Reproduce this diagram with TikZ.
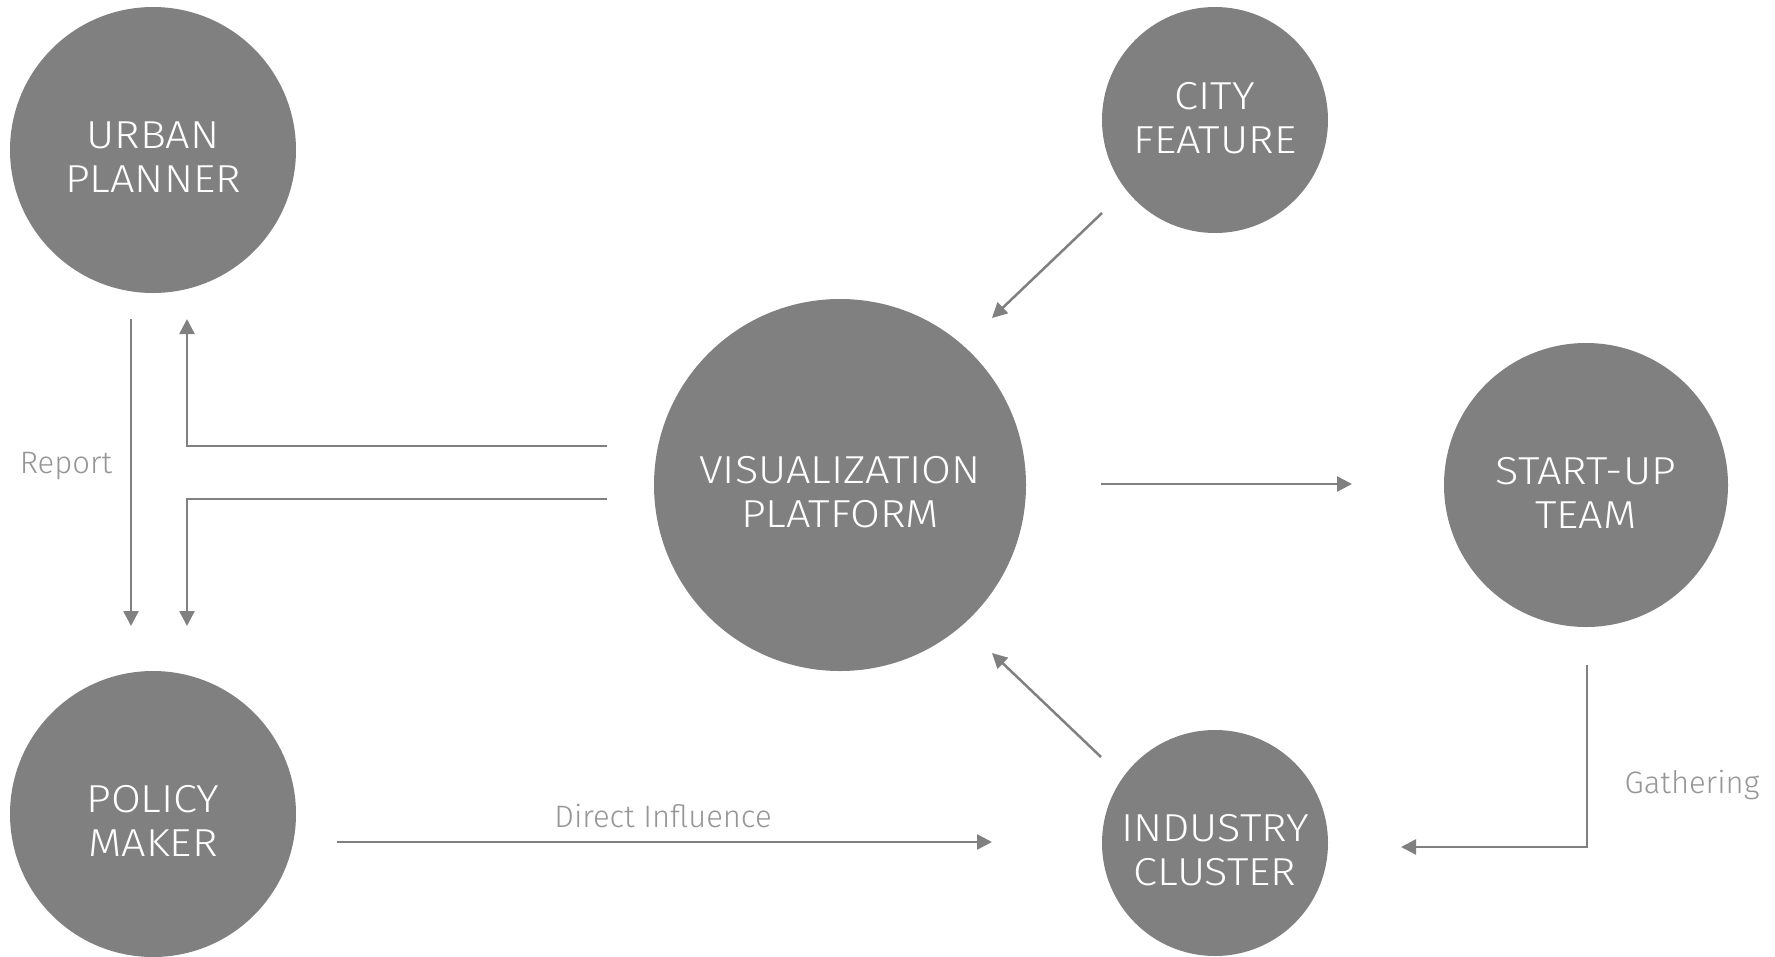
\documentclass[tikz,border=0pt]{standalone}
\usepackage{fontspec}
\setmainfont{Fira Sans}[UprightFont={* Light}]
\newfontfamily\discfont{Fira Sans}[UprightFont={* Light},FakeStretch=1.11]
\usetikzlibrary{arrows.meta,calc}
\definecolor{disc}{RGB}{128,128,128}
\definecolor{wire}{RGB}{128,128,128}
\definecolor{lbl}{RGB}{150,150,150}
\tikzset{
  disc/.style={circle,fill=disc,draw=none,inner sep=0pt,minimum size=#1},
  disctext/.style={text=white,align=center,inner sep=0pt,font=\discfont\fontsize{39bp}{44bp}\selectfont},
  conn/.style={draw=wire,line width=2.5bp,-{Triangle[length=15bp,width=15bp]}},
  lab/.style={text=lbl,inner sep=0pt,anchor=base,font=\fontsize{31bp}{36bp}\selectfont}
}
\begin{document}
\begin{tikzpicture}[x=1bp,y=-1bp]
\useasboundingbox (0,0) rectangle (1775,956);
% circles
\node[disc=286bp] (up) at (153,150) {};
\node[disc=286bp] (pm) at (153,814) {};
\node[disc=372bp] (vis) at (840,485) {};
\node[disc=226bp] (cf) at (1215,120) {};
\node[disc=284bp] (st) at (1586,485) {};
\node[disc=226bp] (ic) at (1215,843) {};
% texts
\node[disctext] (upt) at (153,157.5) {URBAN\\PLANNER};
\node[disctext] (pmt) at (153,821) {POLICY\\MAKER};
\node[disctext] (vist) at (840,492) {VISUALIZATION\\PLATFORM};
\node[disctext] (cft) at (1215,118.5) {CITY\\FEATURE};
\node[disctext] (stt) at (1586,493) {START-UP\\TEAM};
\node[disctext] (ict) at (1215,850) {INDUSTRY\\CLUSTER};
% labels
\node[lab] (report) at (66,473) {Report};
\node[lab] (gather) at (1692,793) {Gathering};
\node[lab] (direct) at (663,827) {Direct Influence};
% connectors
\draw[conn] ([shift={(-22,169)}]up.center) -- ([shift={(-22,-188)}]pm.center);
\draw[conn] ([shift={(-233,-39)}]vis.center) -| ([shift={(34,169)}]up.center);
\draw[conn] ([shift={(-233,14)}]vis.center) -| ([shift={(34,-188)}]pm.center);
\draw[conn] ([shift={(261,-1)}]vis.center) -- ([shift={(-234,-1)}]st.center);
\draw[conn] ([shift={(-113,93)}]cf.center) -- ([shift={(152,-167)}]vis.center);
\draw[conn] ([shift={(-114,-86)}]ic.center) -- ([shift={(152,168)}]vis.center);
\draw[conn] ([shift={(1,180)}]st.center) |- ([shift={(186,4)}]ic.center);
\draw[conn] ([shift={(184,28)}]pm.center) -- ([shift={(-223,-1)}]ic.center);
\end{tikzpicture}
\end{document}
